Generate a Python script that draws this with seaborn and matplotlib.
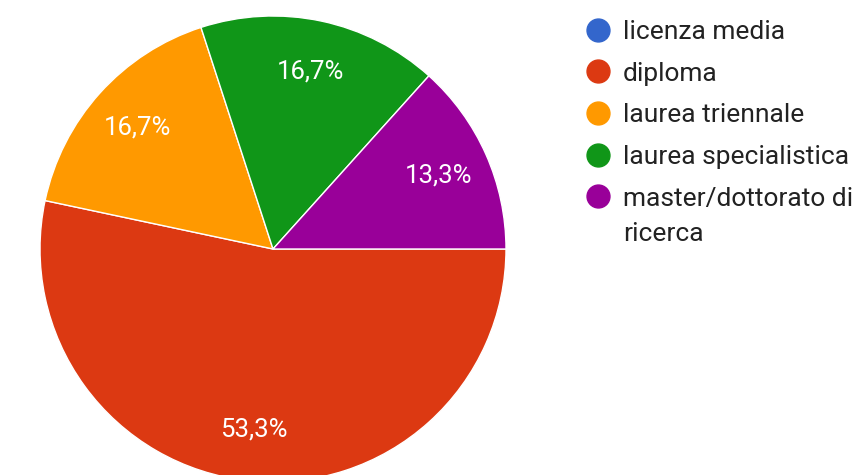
"""
plot.py

Pie chart of education level (titolo di studio) answers.
"""

import matplotlib
matplotlib.use("Agg")

import matplotlib.pyplot as plt
import seaborn as sns

from matplotlib.lines import Line2D

############################################################
# Data
############################################################

categories = [
    "licenza media",
    "diploma",
    "laurea triennale",
    "laurea specialistica",
    "master/dottorato di\nricerca",
]

counts = [0, 16, 5, 5, 4]

colors = ["#3366cc", "#dc3912", "#ff9900", "#109618", "#990099"]


############################################################
# Plot
############################################################

def pct_label(p):

    # zero slices get no label, decimal comma like the original
    if p <= 0:
        return ""

    return f"{p:.1f}".replace(".", ",") + "%"


def plot():

    sns.set_theme(style="white")

    plt.rcParams["font.family"] = ["Roboto", "DejaVu Sans"]

    palette = sns.color_palette(colors)

    fig = plt.figure(figsize=(8.57, 4.75), dpi=100)

    # square box in pixels so the pie fills it exactly
    ax = fig.add_axes([40 / 857, -7 / 475, 466 / 857, 466 / 475])

    wedges, texts, autotexts = ax.pie(
        counts,
        colors=palette,
        startangle=0,
        counterclock=False,
        autopct=pct_label,
        pctdistance=0.78,
        wedgeprops=dict(edgecolor="white", linewidth=1.0),
        textprops=dict(color="white", fontsize=18.5),
    )

    ax.set_xlim(-1, 1)
    ax.set_ylim(-1, 1)
    ax.set_aspect("equal")

    ########################################################
    # Legend: the marker sits on the first line of a wrapped
    # label, so only the first line goes into the legend and
    # the rest is written underneath it.

    first_lines = [c.split("\n")[0] for c in categories]

    handles = [
        Line2D(
            [], [],
            marker="o",
            linestyle="",
            markersize=16.5,
            markerfacecolor=c,
            markeredgecolor=c,
        )
        for c in palette
    ]

    leg = fig.legend(
        handles,
        first_lines,
        loc="upper left",
        bbox_to_anchor=(585 / 857, 1 - 20 / 475),
        frameon=False,
        fontsize=19,
        labelcolor="#222222",
        handlelength=1.0,
        handletextpad=0.44,
        labelspacing=0.67,
        borderpad=0,
        borderaxespad=0,
    )

    fig.canvas.draw()

    W, H = fig.get_size_inches() * fig.dpi

    for label, txt in zip(categories, leg.get_texts()):

        extra = label.split("\n")[1:]

        if not extra:
            continue

        bb = txt.get_window_extent()

        yc = (bb.y0 + bb.y1) / 2

        for i, line in enumerate(extra, start=1):

            fig.text(
                bb.x0 / W,
                (yc - 35 * i) / H,
                line,
                fontsize=19,
                color="#222222",
                ha="left",
                va="center",
            )

    fig.savefig("out.png", dpi=100, facecolor="white")

    plt.close(fig)


############################################################

if __name__ == "__main__":

    plot()
